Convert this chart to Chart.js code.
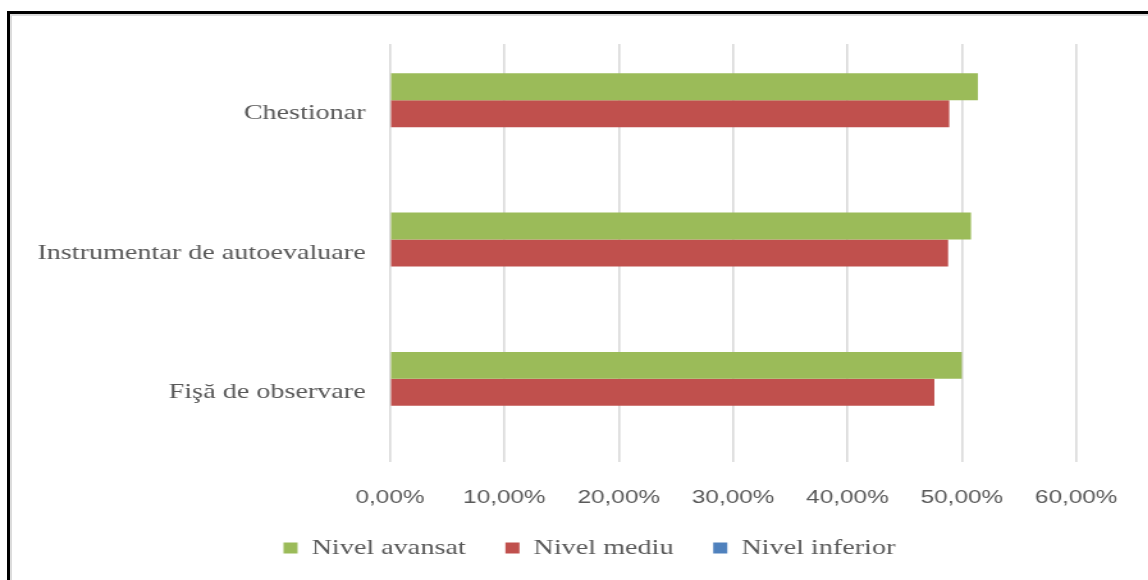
<!DOCTYPE html>
<html lang="ro">
<head>
  <meta charset="UTF-8">
  <title>Nivel pe instrumente</title>
  <script src="https://cdn.jsdelivr.net/npm/chart.js"></script>
  <style>
    html, body { margin: 0; padding: 0; background: #fff; overflow: hidden; }
    .wrap { position: relative; width: 1148px; height: 580px; }
    /* frame: thick black top/left edge with a light inner line */
    .frame {
      position: absolute; left: 7px; top: 11px; width: 1160px; height: 600px;
      border-top: 3px solid #000; border-left: 3px solid #000;
      box-shadow: inset 2px 2px 0 #dcdcdc;
    }
    /* chart is drawn narrower and stretched wide */
    #chart {
      position: absolute; left: 0; top: 0;
      transform: scaleX(1.28); transform-origin: 0 0;
    }
  </style>
</head>
<body>
  <div class="wrap">
    <div class="frame"></div>
    <canvas id="chart" width="897" height="580"></canvas>
  </div>

  <script>
    // Categories (top to bottom)
    const categories = ['Chestionar', 'Instrumentar de autoevaluare', 'Fişă de observare'];

    // Series values (%)
    const nivelAvansat = [51.4, 50.8, 50.0];
    const nivelMediu = [48.9, 48.8, 47.6];
    const nivelInferior = [0, 0, 0];

    // X axis ticks
    const tickMin = 0;
    const tickMax = 60;
    const tickStep = 10;

    const grey = '#595959';
    const serif = "'Liberation Serif', 'Times New Roman', serif";
    const sans = "'Liberation Sans', Arial, sans-serif";

    // nudge the legend row sideways after layout
    const legendShift = {
      id: 'legendShift',
      afterLayout(chart) {
        const lg = chart.legend;
        if (!lg) return;
        const dx = 34;
        lg.left += dx;
        lg.right += dx;
        (lg.legendHitBoxes || []).forEach(h => { h.left += dx; });
      }
    };

    new Chart(document.getElementById('chart'), {
      type: 'bar',
      data: {
        labels: categories,
        datasets: [
          { label: 'Nivel avansat', data: nivelAvansat, backgroundColor: '#9bbb59' },
          { label: 'Nivel mediu', data: nivelMediu, backgroundColor: '#c0504d' },
          { label: 'Nivel inferior', data: nivelInferior, backgroundColor: '#4f81bd' }
        ]
      },
      plugins: [legendShift],
      options: {
        indexAxis: 'y',
        responsive: false,
        animation: false,
        devicePixelRatio: 1,
        datasets: {
          bar: { categoryPercentage: 0.58, barPercentage: 1.0, borderWidth: 0 }
        },
        layout: { padding: { top: 44, left: 10, right: 54, bottom: 11 } },
        scales: {
          x: {
            min: tickMin,
            max: tickMax,
            ticks: {
              stepSize: tickStep,
              padding: 24,
              color: grey,
              font: { family: sans, size: 19 },
              callback: (value) => value.toFixed(2).replace('.', ',') + '%'
            },
            grid: { color: '#d9d9d9', lineWidth: 1.6, drawTicks: false },
            border: { display: false },
            afterFit: (scale) => { scale.height = 44; }
          },
          y: {
            ticks: {
              padding: 19,
              color: grey,
              font: { family: serif, size: 22 }
            },
            grid: { display: false, drawTicks: false },
            border: { display: false },
            afterFit: (scale) => { scale.width = 294.7; }
          }
        },
        plugins: {
          legend: {
            position: 'bottom',
            labels: {
              boxWidth: 11,
              boxHeight: 11,
              padding: 31,
              color: grey,
              font: { family: serif, size: 22 }
            }
          },
          tooltip: { enabled: false }
        }
      }
    });
  </script>
</body>
</html>
